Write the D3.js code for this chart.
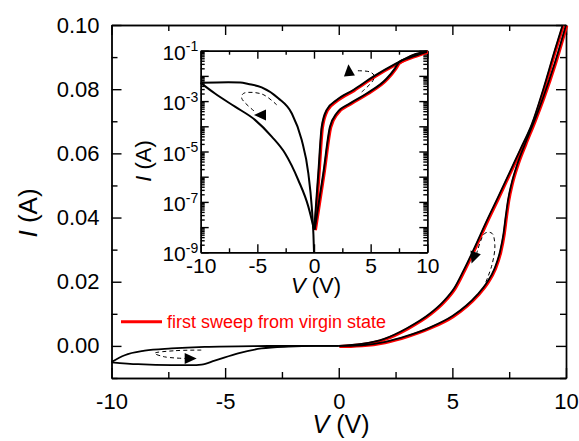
<!DOCTYPE html>
<html>
<head>
<meta charset="utf-8">
<script src="https://cdn.jsdelivr.net/npm/d3@7"></script>
<style>
  body { margin: 0; background: #fff; }
  text { font-family: "Liberation Sans", Arial, sans-serif; }
</style>
</head>
<body>
<svg id="chart" width="579" height="441"></svg>
<script>
// ---- main plot (linear) ----
const mainXTicks = [-10, -5, 0, 5, 10]
const mainXMinor = [-7.5, -2.5, 2.5, 7.5]
const mainYTicks = [0, 0.02, 0.04, 0.06, 0.08, 0.10]
const mainYMinor = [-0.01, 0.01, 0.03, 0.05, 0.07, 0.09]

// [V, I] pairs
const mainPosUpper = [[0, 0], [1, 0.0006], [2, 0.0022], [3, 0.0055], [4, 0.0100], [4.6, 0.0138],
  [5.1, 0.0182], [5.5, 0.0236], [6.0, 0.0310], [6.5, 0.0388], [7.0, 0.0462], [7.5, 0.0538],
  [8.0, 0.0614], [8.5, 0.0692], [9.0, 0.0800], [9.5, 0.0920], [9.85, 0.1]]
const mainPosLower = [[0, 0], [0.5, 0.00003], [1, 0.0002], [2, 0.0012], [3, 0.0031], [4, 0.0057],
  [5, 0.0093], [5.6, 0.0125], [6.1, 0.0160], [6.5, 0.0195], [6.85, 0.0240], [7.1, 0.0295],
  [7.25, 0.0350], [7.35, 0.0405], [7.45, 0.0455], [7.6, 0.0505], [7.85, 0.0565], [8.2, 0.0630],
  [8.6, 0.0700], [9.0, 0.0775], [9.5, 0.0880], [10, 0.1]]
const mainNegUpper = [[-10, -0.005], [-9.42, -0.0029], [-8.54, -0.0015], [-7.36, -0.0008], [-5.9, -0.0003],
  [-3.7, -0.00005], [-2, 0], [0, 0]]
const mainNegLower = [[-10, -0.0051], [-8.83, -0.0057], [-7.36, -0.006], [-6.5, -0.006], [-6.04, -0.0058],
  [-5.46, -0.0046], [-4.43, -0.0023], [-3.4, -0.0008], [-2.22, -0.0002], [-1, 0], [0, 0]]
const mainNegGuide = [[-6.05, -0.0013], [-7.22, -0.0015], [-8.1, -0.0023], [-7.67, -0.0034], [-6.78, -0.0039]]
const mainPosGuide = [[6.36, 0.0179], [6.74, 0.0252], [6.87, 0.0314], [6.74, 0.0351], [6.43, 0.0351], [6.07, 0.0288]]
// arrow heads: [V, I, angle in degrees]
const mainArrows = [[-6.56, -0.0039, 0], [5.95, 0.0277, 110]]

// ---- inset (log) ----
const insetXTicks = [-10, -5, 0, 5, 10]
const insetXMinor = [-7.5, -2.5, 2.5, 7.5]
const insetYLabels = [-1, -3, -5, -7, -9]

const insetNegFlat = [[-10, 5.3e-3], [-7.56, 5.6e-3], [-6.5, 5.5e-3], [-5.8, 4.8e-3], [-4.62, 3.5e-3],
  [-3.15, 1.3e-3], [-1.97, 3.3e-4], [-1.09, 2.9e-5], [-0.5, 1.35e-6], [-0.2, 6.5e-8], [-0.05, 5e-9], [0, 1e-9]]
const insetNegSteep = [[-10, 5.3e-3], [-8.74, 2.0e-3], [-6.97, 6.0e-4], [-5.21, 1.8e-4], [-3.73, 3.9e-5],
  [-2.56, 8.5e-6], [-1.39, 7.4e-7], [-0.5, 6.5e-8], [-0.06, 1.05e-8], [0, 8e-9]]
const insetPosUpper = [[0.02, 8e-9], [0.38, 1.35e-6], [0.68, 9.5e-5], [1.12, 4.5e-4], [2.0, 1.1e-3],
  [3.47, 2.75e-3], [5.23, 9.3e-3], [7.3, 3.2e-2], [8.76, 6.8e-2], [9.96, 9.5e-2]]
const insetPosLower = [[0.06, 8e-9], [0.82, 1.35e-6], [1.41, 9.5e-5], [2.0, 3.3e-4], [3.18, 8.1e-4],
  [4.65, 2.0e-3], [6.42, 7.9e-3], [7.15, 2.0e-2], [7.5, 3.5e-2], [8.4, 5.2e-2], [9.96, 9.1e-2]]
const insetNegGuide = [[-3.29, 7.1e-4], [-4.59, 1.9e-3], [-6.24, 2.0e-3], [-6.38, 1.3e-3], [-5.21, 3.8e-4]]
const insetPosGuide = [[4.21, 2.3e-3], [5.2, 6.5e-3], [5.3, 1.05e-2], [4.9, 1.45e-2], [3.71, 1.6e-2]]
const insetArrows = [[-4.68, 2.8e-4, 180], [3.09, 1.55e-2, -95]]

const legendLabel = 'first sweep from virgin state'

const svg = d3.select('#chart')
const font = '"Liberation Sans", Arial, sans-serif'

const x = d3.scaleLinear().domain([-10, 10]).range([111.5, 566])
const y = d3.scaleLinear().domain([-0.01, 0.10]).range([378, 25])
const ix = d3.scaleLinear().domain([-10, 10]).range([200.7, 427.3])
const iy = d3.scaleLog().domain([1e-9, 1e-1]).range([252.3, 50.7])

function styleAxis (g, size) {
  g.attr('font-family', font).attr('font-size', size)
  g.selectAll('path, line').attr('stroke', '#000').attr('stroke-width', 1.4)
  g.selectAll('text').attr('fill', '#000')
}

// frame ticks for one box
function box (sx, sy, major, minor, opts) {
  const [x0, x1] = sx.range()
  const [y0, y1] = sy.range()
  svg.append('g').attr('transform', `translate(0,${y0})`)
    .call(d3.axisBottom(sx).tickValues(opts.xt).tickSize(-major).tickSizeOuter(0)
      .tickPadding(opts.xpad).tickFormat(d => String(d)))
    .call(styleAxis, opts.fs)
  svg.append('g').attr('transform', `translate(0,${y0})`)
    .call(d3.axisBottom(sx).tickValues(opts.xm).tickSize(-minor).tickSizeOuter(0).tickFormat(''))
    .call(styleAxis, opts.fs)
  svg.append('g').attr('transform', `translate(0,${y1})`)
    .call(d3.axisTop(sx).tickValues(opts.xt).tickSize(-major).tickSizeOuter(0).tickFormat(''))
    .call(styleAxis, opts.fs)
  svg.append('g').attr('transform', `translate(0,${y1})`)
    .call(d3.axisTop(sx).tickValues(opts.xm).tickSize(-minor).tickSizeOuter(0).tickFormat(''))
    .call(styleAxis, opts.fs)
  svg.append('g').attr('transform', `translate(${x0},0)`)
    .call(d3.axisLeft(sy).tickValues(opts.yt).tickSize(-major).tickSizeOuter(0)
      .tickPadding(opts.ypad).tickFormat(opts.yfmt))
    .call(styleAxis, opts.fs)
  svg.append('g').attr('transform', `translate(${x0},0)`)
    .call(d3.axisLeft(sy).tickValues(opts.ym).tickSize(-minor).tickSizeOuter(0).tickFormat(''))
    .call(styleAxis, opts.fs)
  svg.append('g').attr('transform', `translate(${x1},0)`)
    .call(d3.axisRight(sy).tickValues(opts.yt).tickSize(-major).tickSizeOuter(0).tickFormat(''))
    .call(styleAxis, opts.fs)
  svg.append('g').attr('transform', `translate(${x1},0)`)
    .call(d3.axisRight(sy).tickValues(opts.ym).tickSize(-minor).tickSizeOuter(0).tickFormat(''))
    .call(styleAxis, opts.fs)
}

box(x, y, 10, 6, {
  xt: mainXTicks, xm: mainXMinor, yt: mainYTicks, ym: mainYMinor,
  xpad: 15, ypad: 12, fs: 22, yfmt: d3.format('.2f')
})

const smooth = (sx, sy) => d3.line().x(d => sx(d[0])).y(d => sy(d[1])).curve(d3.curveMonotoneX)
const loose = (sx, sy) => d3.line().x(d => sx(d[0])).y(d => sy(d[1])).curve(d3.curveCatmullRom.alpha(0.5))

function curves (g, sx, sy, red, black, guides, arrows, width) {
  const gen = smooth(sx, sy)
  const genG = loose(sx, sy)
  red.forEach(d => g.append('path').attr('d', gen(d)).attr('fill', 'none')
    .attr('stroke', '#ff0000').attr('stroke-width', 3).attr('transform', 'translate(0.8,0.6)'))
  black.forEach(d => g.append('path').attr('d', gen(d)).attr('fill', 'none')
    .attr('stroke', '#000').attr('stroke-width', width))
  guides.forEach(d => g.append('path').attr('d', genG(d)).attr('fill', 'none')
    .attr('stroke', '#000').attr('stroke-width', 1).attr('stroke-dasharray', '4,3'))
  g.selectAll(null).data(arrows).join('path')
    .attr('d', 'M7,0L-5,-5.5L-5,5.5Z')
    .attr('fill', '#000')
    .attr('transform', d => `translate(${sx(d[0])},${sy(d[1])}) rotate(${d[2]})`)
}

curves(svg.append('g'), x, y, [mainPosUpper, mainPosLower],
  [mainPosUpper, mainPosLower, mainNegUpper, mainNegLower],
  [mainNegGuide, mainPosGuide], mainArrows, 1.8)

// legend
svg.append('line').attr('x1', 121).attr('x2', 162).attr('y1', 321.7).attr('y2', 321.7)
  .attr('stroke', '#ff0000').attr('stroke-width', 3)
svg.append('text').attr('x', 167).attr('y', 328.3).attr('font-size', 18).attr('fill', '#ff0000')
  .text(legendLabel)

// main titles
const tx = svg.append('text').attr('x', 341).attr('y', 433).attr('text-anchor', 'middle').attr('font-size', 25)
tx.append('tspan').attr('font-style', 'italic').text('V')
tx.append('tspan').text(' (V)')
const ty = svg.append('text').attr('transform', 'translate(37,213) rotate(-90)')
  .attr('text-anchor', 'middle').attr('font-size', 26)
ty.append('tspan').attr('font-style', 'italic').text('I')
ty.append('tspan').text(' (A)')

// ---- inset ----
svg.append('rect').attr('x', ix.range()[0]).attr('y', iy.range()[1])
  .attr('width', ix.range()[1] - ix.range()[0]).attr('height', iy.range()[0] - iy.range()[1])
  .attr('fill', '#fff')

const logMajor = d3.range(-9, 0).map(k => Math.pow(10, k))
const logMinor = d3.range(-9, -1).flatMap(k => d3.range(2, 10).map(m => m * Math.pow(10, k)))

box(ix, iy, 8, 4, {
  xt: insetXTicks, xm: insetXMinor, yt: logMajor, ym: logMinor,
  xpad: 6, ypad: 3, fs: 21, yfmt: ''
})

curves(svg.append('g'), ix, iy, [insetPosUpper, insetPosLower],
  [insetNegFlat, insetNegSteep, insetPosUpper, insetPosLower],
  [insetNegGuide, insetPosGuide], insetArrows, 2)

const yl = svg.append('g').selectAll('text').data(insetYLabels).join('text')
  .attr('x', ix.range()[0] - 2.5)
  .attr('y', d => iy(Math.pow(10, d)) + 9)
  .attr('text-anchor', 'end')
  .attr('font-size', 21)
yl.append('tspan').text('10')
yl.append('tspan').attr('font-size', 14).attr('dy', -8.3).text(d => String(d))

const itx = svg.append('text').attr('x', 316).attr('y', 293).attr('text-anchor', 'middle').attr('font-size', 22)
itx.append('tspan').attr('font-style', 'italic').text('V')
itx.append('tspan').text(' (V)')
const ity = svg.append('text').attr('transform', 'translate(151,161) rotate(-90)')
  .attr('text-anchor', 'middle').attr('font-size', 22)
ity.append('tspan').attr('font-style', 'italic').text('I')
ity.append('tspan').text(' (A)')
</script>
</body>
</html>
